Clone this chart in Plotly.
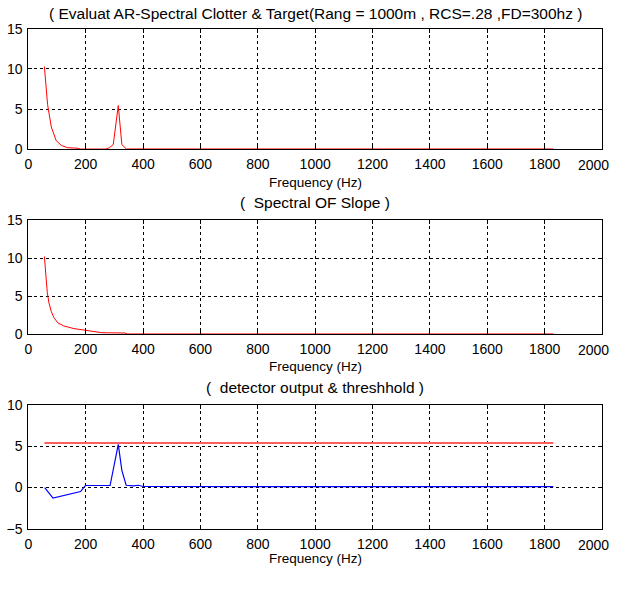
import plotly.graph_objects as go

# Spectrum of clutter + target (AR estimate)
spec_freq = [56, 67, 80, 97, 115, 136, 170, 182, 270, 282, 296, 313.5, 326, 342,
             400, 800, 1200, 1600, 1830]
spec_val = [10.3, 5.6, 2.8, 1.1, 0.5, 0.22, 0.16, 0.05, 0.05, 0.2, 0.6, 5.45, 0.6, 0.06,
            0.06, 0.06, 0.06, 0.06, 0.06]

# Spectral slope
slope_freq = [56, 61, 66, 72, 80, 89, 103, 124, 159, 197, 239, 255, 280, 336, 345,
              800, 1200, 1600, 1830]
slope_val = [10.2, 7.7, 5.5, 4.1, 3.0, 2.2, 1.5, 1.1, 0.75, 0.55, 0.35, 0.22, 0.2, 0.18, 0.05,
             0.05, 0.05, 0.05, 0.05]

# Detector output and threshold
det_freq = [57, 86, 182, 199, 285, 313.5, 326, 341, 366, 383, 401, 800, 1200, 1600, 1830]
det_val = [0.0, -1.27, -0.48, 0.25, 0.25, 5.2, 2.07, 0.28, 0.2, 0.28, 0.13, 0.12, 0.12, 0.12, 0.12]
thr_freq = [56, 1830]
thr_val = [5.36, 5.36]

titles = [
    "( Evaluat AR-Spectral Clotter & Target(Rang = 1000m , RCS=.28 ,FD=300hz )",
    "(  Spectral OF Slope )",
    "(  detector output & threshhold )",
]
xlabel = "Frequency (Hz)"
x_ticks = [0, 200, 400, 600, 800, 1000, 1200, 1400, 1600, 1800, 2000]
y_ticks = [[0, 5, 10, 15], [0, 5, 10, 15], [-5, 0, 5, 10]]
y_ranges = [[0, 15], [0, 15], [-5, 10]]

# the page body keeps its default 8 px margin, so the figure is 16 px smaller
PAGE_W, PAGE_H, PAD = 626, 590, 8
W, H = PAGE_W - 2 * PAD, PAGE_H - 2 * PAD
FONT = "Liberation Sans, Arial, sans-serif"
FS = 14
FS_LABEL = 13.5
FS_TITLE = 15.5

# axes boxes in figure pixels: (top, bottom)
boxes = [(21.3, 145.5), (218, 335.7), (408, 536)]
x_left, x_right = 24.5, 602.0

fig = go.Figure()

series = [
    [(spec_freq, spec_val, "red", 1.0)],
    [(slope_freq, slope_val, "red", 1.0)],
    [(thr_freq, thr_val, "#ff5f5f", 2.0), (det_freq, det_val, "#0000ff", 1.2)],
]

ann = []
for i, (top, bot) in enumerate(boxes):
    xa = "x" if i == 0 else f"x{i+1}"
    ya = "y" if i == 0 else f"y{i+1}"
    for fx, fy, col, w in series[i]:
        fig.add_trace(go.Scatter(x=fx, y=fy, mode="lines", xaxis=xa, yaxis=ya,
                                 line=dict(color=col, width=w), showlegend=False,
                                 hoverinfo="skip"))
    axis_common = dict(
        showline=True, linecolor="black", linewidth=1, mirror="ticks",
        ticks="inside", ticklen=4, tickcolor="black",
        showgrid=True, gridcolor="black", gridwidth=1, griddash="3px,3px",
        zeroline=False, tickfont=dict(family=FONT, size=FS, color="black"),
    )
    fig.layout[f"xaxis{'' if i == 0 else i+1}"] = dict(
        axis_common, domain=[x_left / W, x_right / W], range=[0, 2000],
        tickvals=x_ticks, anchor=ya, ticklabelstandoff=2,
    )
    fig.layout[f"yaxis{'' if i == 0 else i+1}"] = dict(
        axis_common, domain=[1 - bot / H, 1 - top / H], range=y_ranges[i],
        tickvals=y_ticks[i], anchor=xa, ticklabelstandoff=2,
    )
    # the last x tick label would run past the figure edge; keep it inside
    ann.append(dict(text=str(x_ticks[-1]), x=1, y=1 - (bot + 16.5) / H,
                    xref="paper", yref="paper", showarrow=False, xanchor="right",
                    yanchor="middle", borderpad=0,
                    font=dict(family=FONT, size=FS, color="black")))

title_y = [6, 200, 390]
label_y = [179, 369, 566]
for i in range(3):
    ann.append(dict(text=titles[i], x=(x_left + x_right) / 2 / W, y=1 - title_y[i] / H,
                    xref="paper", yref="paper", showarrow=False, xanchor="center",
                    yanchor="middle", font=dict(family=FONT, size=FS_TITLE, color="black")))
    ann.append(dict(text=xlabel, x=(x_left + x_right) / 2 / W, y=1 - label_y[i] / H,
                    xref="paper", yref="paper", showarrow=False, xanchor="center",
                    yanchor="middle", font=dict(family=FONT, size=FS_LABEL, color="black")))

fig.update_layout(
    width=W, height=H, margin=dict(l=0, r=0, t=0, b=0),
    paper_bgcolor="white", plot_bgcolor="white", annotations=ann,
)

fig.write_html("out.html")
